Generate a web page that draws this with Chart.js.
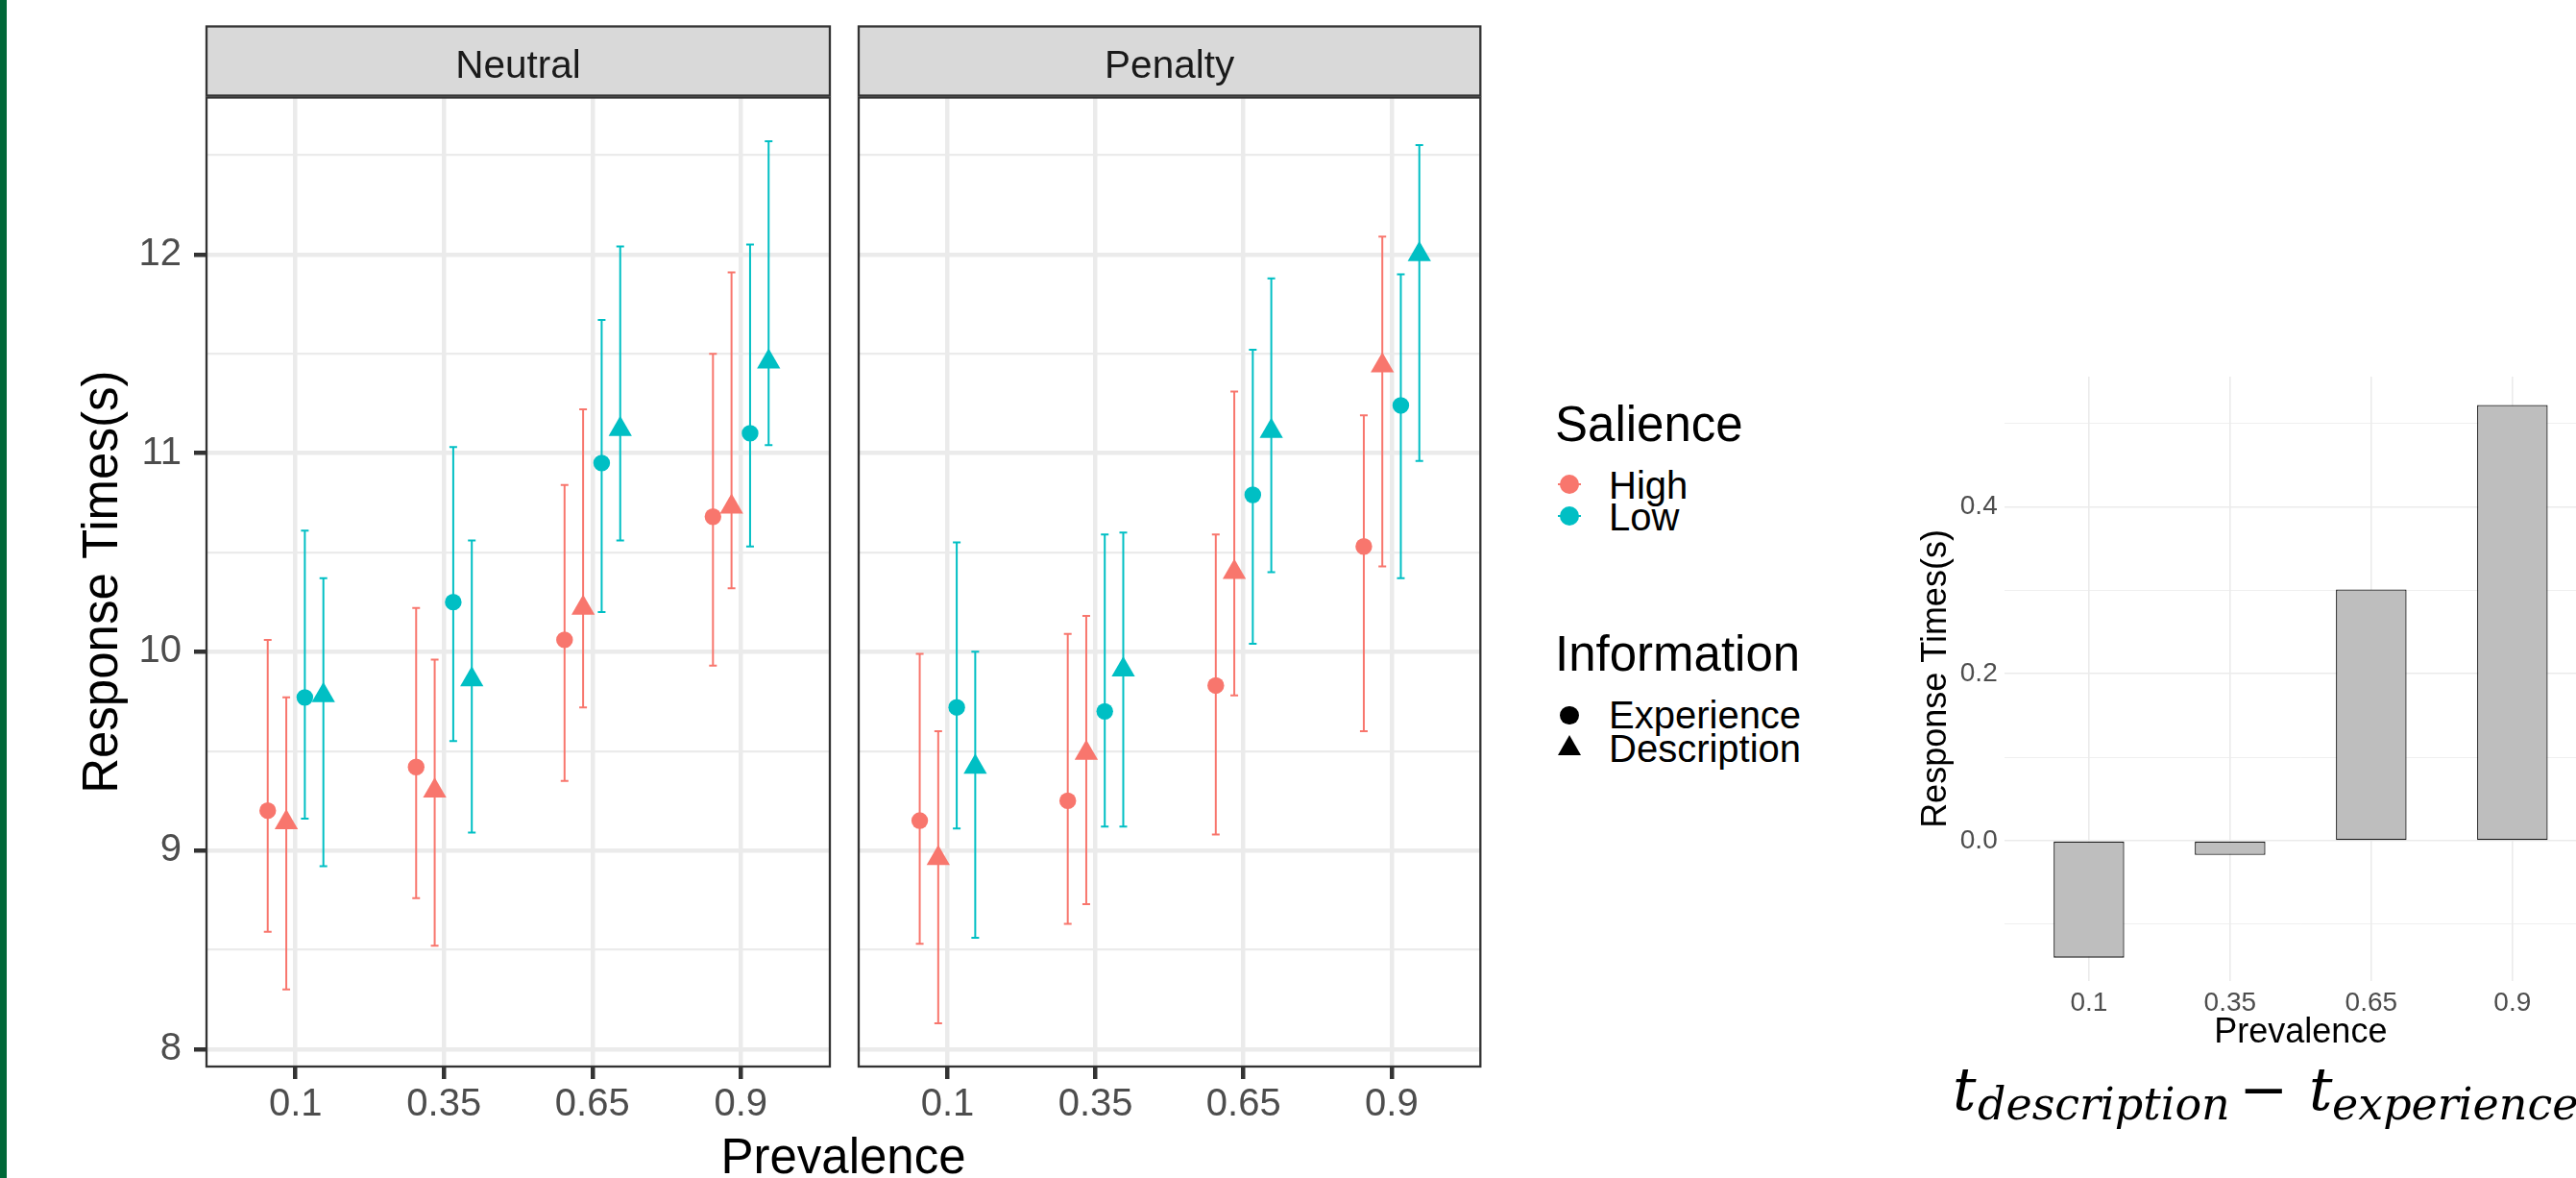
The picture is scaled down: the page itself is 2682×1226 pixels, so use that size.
<!DOCTYPE html>
<html><head><meta charset="utf-8">
<script src="https://cdn.jsdelivr.net/npm/chart.js@4/dist/chart.umd.min.js"></script>
<style>
html,body{margin:0;padding:0;background:#fff;width:2682px;height:1226px;overflow:hidden;}
body{position:relative;font-family:'Liberation Sans',Arial,sans-serif;}
canvas{position:absolute;top:0;}
.t{position:absolute;white-space:nowrap;line-height:1;}
.m{position:absolute;white-space:nowrap;line-height:1;font-family:'DejaVu Serif',serif;font-style:italic;color:#000;}
</style></head><body>
<div style="position:absolute;left:0;top:0;width:7px;height:1226px;background:#006838"></div>
<canvas id="c1" width="880" height="1226" style="left:0"></canvas>
<canvas id="c2" width="680" height="1226" style="left:880px"></canvas>
<canvas id="c3" width="760" height="1226" style="left:1960px"></canvas>
<div class="t" style="left:0;width:1756px;text-align:center;top:1178px;font-size:51px;color:#000">Prevalence</div>
<div id="legend"></div>
<div class="m" style="left:2033px;top:1103px;font-size:61px">t</div>
<div class="m" style="left:2059px;top:1126px;font-size:46px">description</div>
<div class="m" style="left:2331px;top:1103px;font-size:61px;font-style:normal">−</div>
<div class="m" style="left:2404px;top:1103px;font-size:61px">t</div>
<div class="m" style="left:2428px;top:1126px;font-size:46px">experience</div>
<script>
// ---------- data ----------
const prevalence = ['0.1', '0.35', '0.65', '0.9'];
const conditions = ['Neutral', 'Penalty'];
const salienceLevels = ['High', 'Low'];
const informationLevels = ['Experience', 'Description'];
const rtTickValues = [8, 9, 10, 11, 12];

// Neutral
const neutralHighExpMean = [9.20, 9.42, 10.06, 10.68];
const neutralHighExpLo   = [8.59, 8.76, 9.35, 9.93];
const neutralHighExpHi   = [10.06, 10.22, 10.84, 11.50];
const neutralHighDescMean = [9.14, 9.30, 10.22, 10.73];
const neutralHighDescLo   = [8.30, 8.52, 9.72, 10.32];
const neutralHighDescHi   = [9.77, 9.96, 11.22, 11.91];
const neutralLowExpMean = [9.77, 10.25, 10.95, 11.10];
const neutralLowExpLo   = [9.16, 9.55, 10.20, 10.53];
const neutralLowExpHi   = [10.61, 11.03, 11.67, 12.05];
const neutralLowDescMean = [9.78, 9.86, 11.12, 11.46];
const neutralLowDescLo   = [8.92, 9.09, 10.56, 11.04];
const neutralLowDescHi   = [10.37, 10.56, 12.04, 12.57];

// Penalty
const penaltyHighExpMean = [9.15, 9.25, 9.83, 10.53];
const penaltyHighExpLo   = [8.53, 8.63, 9.08, 9.60];
const penaltyHighExpHi   = [9.99, 10.09, 10.59, 11.19];
const penaltyHighDescMean = [8.96, 9.49, 10.40, 11.44];
const penaltyHighDescLo   = [8.13, 8.73, 9.78, 10.43];
const penaltyHighDescHi   = [9.60, 10.18, 11.31, 12.09];
const penaltyLowExpMean = [9.72, 9.70, 10.79, 11.24];
const penaltyLowExpLo   = [9.11, 9.12, 10.04, 10.37];
const penaltyLowExpHi   = [10.55, 10.59, 11.52, 11.90];
const penaltyLowDescMean = [9.42, 9.91, 11.11, 12.00];
const penaltyLowDescLo   = [8.56, 9.12, 10.40, 10.96];
const penaltyLowDescHi   = [10.00, 10.60, 11.88, 12.55];

// Difference (description - experience)
const diffValues = [-0.140, -0.017, 0.301, 0.522];
const diffTickValues = [0, 0.2, 0.4];
const diffTickLabels = ['0.0', '0.2', '0.4'];

// ---------- styling ----------
const FONT = "'Liberation Sans', Arial, sans-serif";
Chart.defaults.font.family = FONT;
const RED = '#F8766D', TEAL = '#00BFC4';
const dodge = [-0.1875, -0.0625, 0.0625, 0.1875];

function panelDatasets(groups) {
  const pts = [], lines = [], caps = [];
  groups.forEach((g, gi) => {
    const xs = g.mean.map((_, i) => i + 1 + dodge[gi]);
    pts.push({
      type: 'scatter',
      data: xs.map((x, i) => ({x, y: g.mean[i]})),
      pointStyle: g.shape,
      pointRadius: g.shape === 'triangle' ? 14 : 8.7,
      pointBackgroundColor: g.color,
      pointBorderWidth: 0,
      pointHoverRadius: 0
    });
    const seg = [];
    xs.forEach((x, i) => { seg.push({x, y: g.lo[i]}, {x, y: g.hi[i]}, {x, y: null}); });
    lines.push({
      type: 'scatter', showLine: true, spanGaps: false,
      data: seg, borderColor: g.color, borderWidth: 2,
      pointRadius: 0, pointHoverRadius: 0, fill: false
    });
    caps.push({
      type: 'scatter',
      data: xs.flatMap((x, i) => [{x, y: g.lo[i]}, {x, y: g.hi[i]}]),
      pointStyle: 'line', pointRadius: 4, pointHoverRadius: 0,
      pointBorderColor: g.color, pointBorderWidth: 2
    });
  });
  return [...pts, ...lines, ...caps];
}

const facetPlugin = {
  id: 'facet',
  afterDraw(chart, args, opts) {
    const {ctx, chartArea: a} = chart;
    ctx.save();
    ctx.fillStyle = '#D9D9D9';
    ctx.fillRect(a.left, opts.top, a.right - a.left, opts.bottom - opts.top);
    ctx.strokeStyle = '#333333';
    ctx.lineWidth = 2.3;
    ctx.strokeRect(a.left, opts.top, a.right - a.left, opts.bottom - opts.top);
    ctx.strokeRect(a.left, a.top, a.right - a.left, a.bottom - a.top);
    ctx.fillStyle = '#1A1A1A';
    ctx.font = '40.5px ' + FONT;
    ctx.textAlign = 'center';
    ctx.textBaseline = 'alphabetic';
    ctx.fillText(opts.text, (a.left + a.right) / 2, opts.baseline);
    ctx.restore();
  }
};

function panelChart(canvasId, title, groups, showY, pad) {
  return new Chart(document.getElementById(canvasId), {
    type: 'scatter',
    data: {datasets: panelDatasets(groups)},
    plugins: [facetPlugin],
    options: {
      responsive: false, animation: false, events: [],
      layout: {padding: pad},
      plugins: {
        legend: {display: false}, tooltip: {enabled: false},
        facet: {text: title, top: 27.5, bottom: 99.5, baseline: 81}
      },
      scales: {
        x: {
          type: 'linear', min: 0.4, max: 4.6, offset: false,
          afterBuildTicks: s => { s.ticks = prevalence.map((_, i) => ({value: i + 1})); },
          afterFit: s => { s.height = 116; },
          grid: {color: '#EBEBEB', lineWidth: 4.5, tickLength: 13, tickColor: '#333333', tickWidth: 4.5},
          border: {display: false},
          ticks: {
            padding: 3, color: '#4D4D4D', font: {size: 40}, autoSkip: false, maxRotation: 0,
            callback: v => prevalence[Math.round(v) - 1]
          }
        },
        y: {
          type: 'linear', min: 7.912, max: 12.79,
          afterBuildTicks: s => {
            const t = [];
            for (let v = 8; v <= 12.5; v += 0.5) t.push({value: v});
            s.ticks = t;
          },
          afterFit: s => { s.width = showY ? 215 : 0; },
          grid: {
            color: '#EBEBEB',
            lineWidth: c => Number.isInteger(c.tick.value) ? 4.5 : 2.3,
            drawTicks: showY, tickLength: 13, tickWidth: 4.5,
            tickColor: c => Number.isInteger(c.tick.value) ? '#333333' : 'rgba(0,0,0,0)'
          },
          border: {display: false},
          ticks: {
            display: showY, padding: 13, color: '#4D4D4D', font: {size: 40}, autoSkip: false,
            callback: v => rtTickValues.includes(v) ? String(v) : ''
          },
          title: {
            display: showY, text: 'Response Times(s)', color: '#000',
            font: {size: 51}, padding: {top: 77.4, bottom: 0}
          }
        }
      }
    }
  });
}

panelChart('c1', conditions[0], [
  {mean: neutralHighExpMean, lo: neutralHighExpLo, hi: neutralHighExpHi, color: RED, shape: 'circle'},
  {mean: neutralHighDescMean, lo: neutralHighDescLo, hi: neutralHighDescHi, color: RED, shape: 'triangle'},
  {mean: neutralLowExpMean, lo: neutralLowExpLo, hi: neutralLowExpHi, color: TEAL, shape: 'circle'},
  {mean: neutralLowDescMean, lo: neutralLowDescLo, hi: neutralLowDescHi, color: TEAL, shape: 'triangle'}
], true, {top: 101.5, left: 0, right: 16, bottom: 0});

panelChart('c2', conditions[1], [
  {mean: penaltyHighExpMean, lo: penaltyHighExpLo, hi: penaltyHighExpHi, color: RED, shape: 'circle'},
  {mean: penaltyHighDescMean, lo: penaltyHighDescLo, hi: penaltyHighDescHi, color: RED, shape: 'triangle'},
  {mean: penaltyLowExpMean, lo: penaltyLowExpLo, hi: penaltyLowExpHi, color: TEAL, shape: 'circle'},
  {mean: penaltyLowDescMean, lo: penaltyLowDescLo, hi: penaltyLowDescHi, color: TEAL, shape: 'triangle'}
], false, {top: 101.5, left: 11.8, right: 18.7, bottom: 0});

// ---------- difference bar chart ----------
new Chart(document.getElementById('c3'), {
  type: 'bar',
  data: {
    datasets: [{
      data: diffValues.map((v, i) => ({x: i + 1, y: v})),
      backgroundColor: '#BEBEBE', borderColor: '#1A1A1A', borderWidth: 1.3,
      borderSkipped: false, barPercentage: 0.5, categoryPercentage: 1
    }]
  },
  options: {
    responsive: false, animation: false, events: [],
    layout: {padding: {top: 392, left: 0, right: 16, bottom: 0}},
    plugins: {legend: {display: false}, tooltip: {enabled: false}},
    scales: {
      x: {
        type: 'linear', min: 0.4, max: 4.6, offset: false,
        afterBuildTicks: s => { s.ticks = prevalence.map((_, i) => ({value: i + 1})); },
        afterFit: s => { s.height = 205; },
        grid: {color: '#EBEBEB', lineWidth: 1.6, drawTicks: false, offset: false},
        border: {display: false},
        ticks: {padding: 6, color: '#4D4D4D', font: {size: 28}, autoSkip: false, maxRotation: 0,
          callback: v => prevalence[Math.round(v) - 1]},
        title: {display: true, text: 'Prevalence', color: '#000', font: {size: 36}, padding: {top: 0, bottom: 129.4}}
      },
      y: {
        type: 'linear', min: -0.168, max: 0.556,
        afterBuildTicks: s => {
          s.ticks = [-0.1, 0, 0.1, 0.2, 0.3, 0.4, 0.5].map(v => ({value: v}));
        },
        afterFit: s => { s.width = 126.7; },
        grid: {
          color: '#EBEBEB', drawTicks: false,
          lineWidth: c => diffTickValues.some(t => Math.abs(t - c.tick.value) < 1e-9) ? 1.6 : 0.8
        },
        border: {display: false},
        ticks: {
          padding: 7, color: '#4D4D4D', font: {size: 28}, autoSkip: false,
          callback: v => {
            const k = diffTickValues.findIndex(t => Math.abs(t - v) < 1e-9);
            return k >= 0 ? diffTickLabels[k] : '';
          }
        },
        title: {display: true, text: 'Response Times(s)', color: '#000', font: {size: 36}, padding: {top: 34.8, bottom: 0}}
      }
    }
  }
});

// ---------- legend (HTML) ----------
(function () {
  const L = document.getElementById('legend');
  let h = '';
  h += `<div class="t" style="left:1619px;top:416px;font-size:51px;color:#000">Salience</div>`;
  const salColors = [RED, TEAL];
  const salY = [504, 537.3];
  salienceLevels.forEach((s, i) => {
    const cy = salY[i];
    h += `<div style="position:absolute;left:1622px;top:${cy - 1}px;width:24px;height:2px;background:${salColors[i]}"></div>`;
    h += `<div style="position:absolute;left:${1634.3 - 10}px;top:${cy - 10}px;width:20px;height:20px;border-radius:50%;background:${salColors[i]}"></div>`;
    h += `<div class="t" style="left:1675px;top:${cy + 15 - 33.9}px;font-size:40px;color:#000">${s}</div>`;
  });
  h += `<div class="t" style="left:1619px;top:655px;font-size:51px;color:#000">Information</div>`;
  h += `<div style="position:absolute;left:${1634 - 9.7}px;top:${744.3 - 9.7}px;width:19.4px;height:19.4px;border-radius:50%;background:#000"></div>`;
  h += `<div style="position:absolute;left:1621.5px;top:765px;width:0;height:0;border-left:12.5px solid transparent;border-right:12.5px solid transparent;border-bottom:21.7px solid #000"></div>`;
  const infY = [758.3, 793.3];
  informationLevels.forEach((s, i) => {
    h += `<div class="t" style="left:1675px;top:${infY[i] - 33.9}px;font-size:40px;color:#000">${s}</div>`;
  });
  L.innerHTML = h;
})();
</script>
</body></html>
